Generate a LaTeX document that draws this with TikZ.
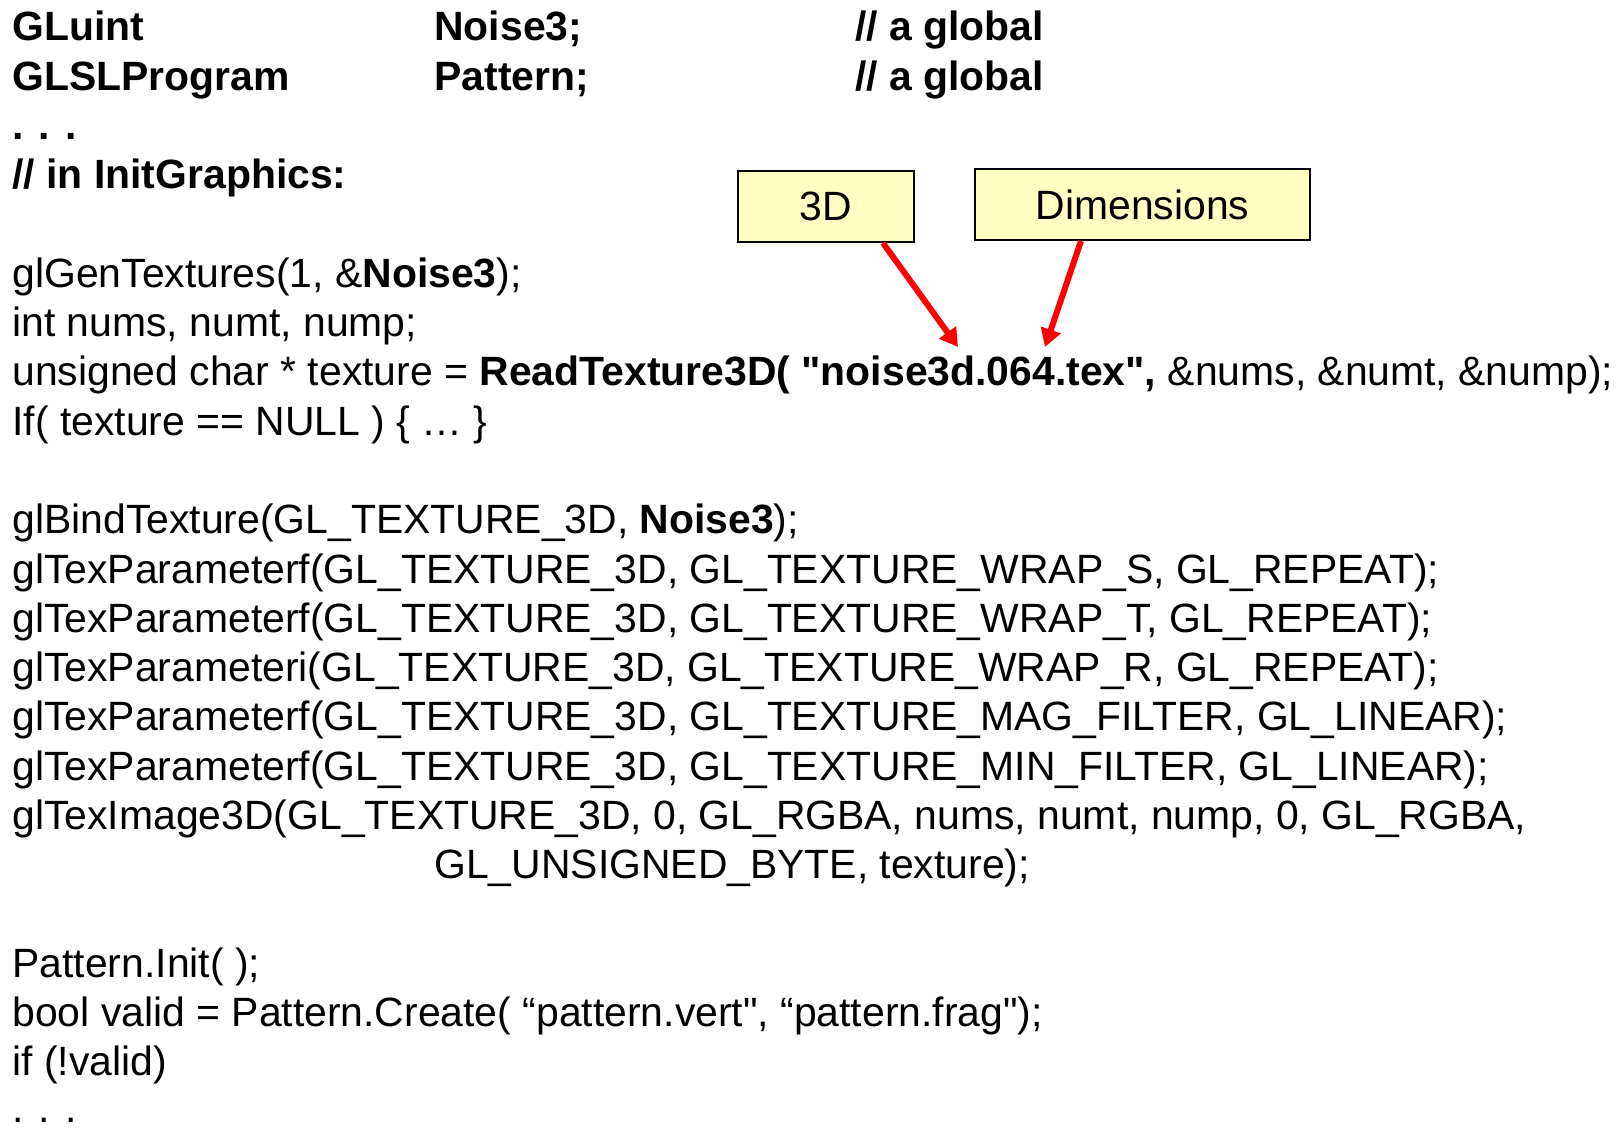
\documentclass[tikz,border=0pt]{standalone}
\usepackage{fontspec}
\newfontfamily\codefam{Liberation Sans}
\usetikzlibrary{arrows.meta}
\definecolor{noteyellow}{HTML}{FFFFC4}
\newcommand{\codesize}{\codefam\fontsize{20.45}{24}\selectfont}
\tikzset{
  codeline/.style={anchor=base west, inner sep=0pt, font=\codesize},
  codebold/.style={codeline, font=\codesize\bfseries},
  notebox/.style={draw=black, line width=1pt, fill=noteyellow, font=\codesize,
    minimum height=35.5pt, inner sep=0pt},
  pointer/.style={draw=red, line width=3pt, -{Triangle[length=9pt,width=10pt]}}
}
\begin{document}
\begin{tikzpicture}[x=0.5pt,y=-0.5pt]
  \useasboundingbox (0,0) rectangle (1616,1128);
  % globals
  \node[codebold] (gluint) at (12,41) {GLuint};
  \node[codebold] (noise) at (434,41) {Noise3;};
  \node[codebold] (cmta) at (855,41) {// a global};
  \node[codebold] (glsl) at (12,90.3) {GLSLProgram};
  \node[codebold] (pattern) at (434,90.3) {Pattern;};
  \node[codebold] (cmtb) at (855,90.3) {// a global};
  \node[codebold] (dotsa) at (12,139.5) {. . .};
  \node[codebold] (init) at (12,188.8) {// in InitGraphics:};
  % texture setup
  \node[codeline] (gen) at (12,287.4) {glGenTextures(1, \&\textbf{Noise3});};
  \node[codeline] (ints) at (12,336.6) {int nums, numt, nump;};
  \node[codeline] (read) at (12,385.9) {unsigned char * texture = \textbf{ReadTexture3D( "noise3d.064.tex",} \&nums, \&numt, \&nump);};
  \node[codeline] (null) at (12,435.2) {If( texture == NULL ) \{ … \}};
  \node[codeline] (bind) at (12,533.7) {glBindTexture(GL\_TEXTURE\_3D, \textbf{Noise3});};
  \node[codeline] (wraps) at (12,583.0) {glTexParameterf(GL\_TEXTURE\_3D, GL\_TEXTURE\_WRAP\_S, GL\_REPEAT);};
  \node[codeline] (wrapt) at (12,632.2) {glTexParameterf(GL\_TEXTURE\_3D, GL\_TEXTURE\_WRAP\_T, GL\_REPEAT);};
  \node[codeline] (wrapr) at (12,681.5) {glTexParameteri(GL\_TEXTURE\_3D, GL\_TEXTURE\_WRAP\_R, GL\_REPEAT);};
  \node[codeline] (magf) at (12,730.8) {glTexParameterf(GL\_TEXTURE\_3D, GL\_TEXTURE\_MAG\_FILTER, GL\_LINEAR);};
  \node[codeline] (minf) at (12,780.1) {glTexParameterf(GL\_TEXTURE\_3D, GL\_TEXTURE\_MIN\_FILTER, GL\_LINEAR);};
  \node[codeline] (image) at (12,829.3) {glTexImage3D(GL\_TEXTURE\_3D, 0, GL\_RGBA, nums, numt, nump, 0, GL\_RGBA,};
  \node[codeline] (imagecont) at (434,878.6) {GL\_UNSIGNED\_BYTE, texture);};
  % shader program
  \node[codeline] (pinit) at (12,977.1) {Pattern.Init( );};
  \node[codeline] (create) at (12,1026.4) {bool valid = Pattern.Create( “pattern.vert", “pattern.frag");};
  \node[codeline] (valid) at (12,1075.7) {if (!valid)};
  \node[codeline] (dotsb) at (12,1122) {. . .};
  % callouts
  \node[notebox, minimum width=88pt] (threed) at (826,206.5) {3D};
  \node[notebox, minimum width=167.5pt] (dims) at (1142.5,204.5) {Dimensions};
  \coordinate (tipthreed) at (958,347);
  \coordinate (tipdims) at (1045,347);
  \draw[pointer] ([xshift=-16pt]threed.south east) -- (tipthreed);
  \draw[pointer] ([xshift=53.5pt]dims.south west) -- (tipdims);
\end{tikzpicture}
\end{document}
